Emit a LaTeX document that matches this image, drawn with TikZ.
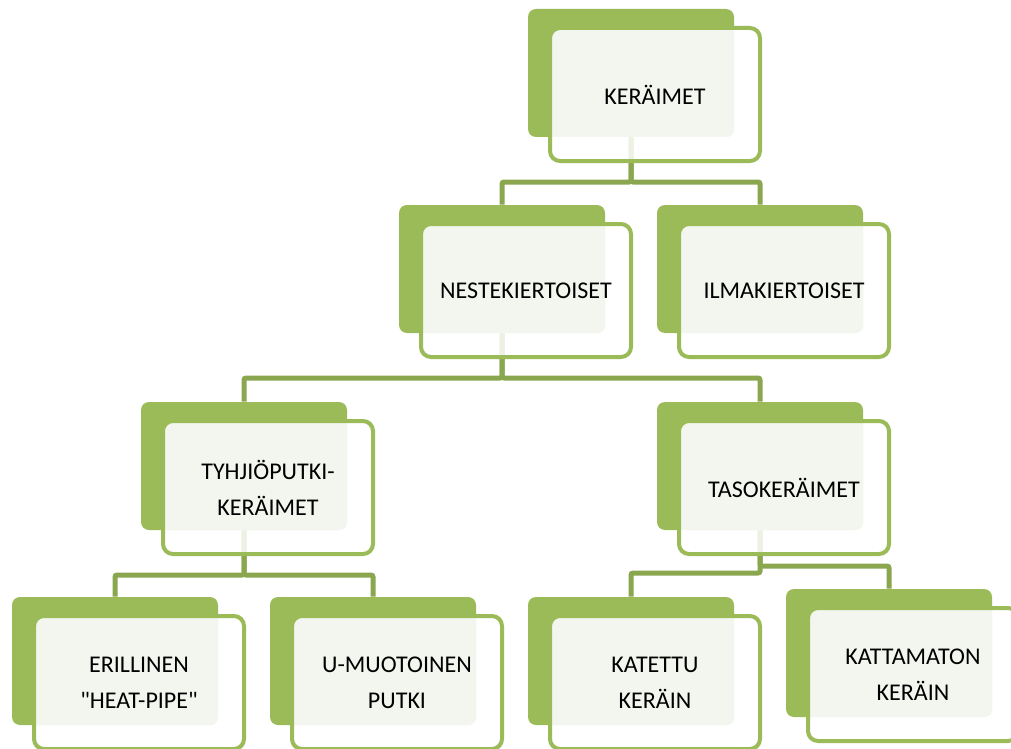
\documentclass[tikz,border=0pt]{standalone}
\usepackage{fontspec}
\setmainfont{Carlito}
\usetikzlibrary{backgrounds}
\definecolor{gr}{HTML}{9BBB59}
\definecolor{conncol}{HTML}{8AA64F}
\definecolor{lightg}{HTML}{F3F6EE}
\newcommand\sq{\XeTeXglyph\XeTeXcharglyph"22\relax}
\tikzset{
  gbox/.style={fill=gr, draw=none, rounded corners=6pt, inner sep=0pt,
    minimum width=154.5pt, minimum height=96pt},
  fbox/.style={draw=gr, line width=3pt, rounded corners=7.5pt, inner sep=0pt,
    minimum width=157.5pt, minimum height=99.75pt, align=center,
    font=\fontsize{18}{27}\selectfont},
  conn/.style={draw=conncol, line width=3.75pt, rounded corners=1.5pt}
}
\newcommand\orgunit[4]{%
  \node[gbox] (#1g) at (#2+103,#3+64) {};
  \fill[white, fill opacity=0.85, rounded corners=7.5pt] (#2+22,#3+19) rectangle (#2+232,#3+152);
  \begin{scope}
    \clip[rounded corners=7.5pt] (#2+22,#3+19) rectangle (#2+232,#3+152);
    \fill[lightg, rounded corners=6pt] (#2,#3) rectangle (#2+206,#3+128);
  \end{scope}
  \node[fbox] (#1) at (#2+127,#3+85.5) {#4};
}
\begin{document}
\begin{tikzpicture}[x=0.75pt,y=-0.75pt]
\useasboundingbox (0,0) rectangle (1011,749);
\orgunit{K}{528}{9}{KERÄIMET}
\orgunit{N}{399}{205}{NESTEKIERTOISET}
\orgunit{I}{657}{205}{ILMAKIERTOISET}
\orgunit{T}{141}{402}{TYHJIÖPUTKI-\\KERÄIMET}
\orgunit{S}{657}{402}{TASOKERÄIMET}
\orgunit{E}{12}{597}{ERILLINEN\\\sq HEAT-PIPE\sq}
\orgunit{U}{270}{597}{U-MUOTOINEN\\PUTKI}
\orgunit{KA}{528}{597}{KATETTU\\KERÄIN}
\orgunit{KM}{786}{589}{KATTAMATON\\KERÄIN}
\coordinate (h1) at (0,182);
\coordinate (h2) at (0,378);
\coordinate (h3) at (0,575);
\coordinate (h4) at (0,573);
\coordinate (h5) at (0,566);
\begin{pgfonlayer}{background}
\draw[conn] (Kg.south) -- (Kg.south |- h1) -| (Ng.north);
\draw[conn] (Kg.south) -- (Kg.south |- h1) -| (Ig.north);
\draw[conn] (Ng.south) -- (Ng.south |- h2) -| (Tg.north);
\draw[conn] (Ng.south) -- (Ng.south |- h2) -| (Sg.north);
\draw[conn] (Tg.south) -- (Tg.south |- h3) -| (Eg.north);
\draw[conn] (Tg.south) -- (Tg.south |- h3) -| (Ug.north);
\draw[conn] (Sg.south) -- (Sg.south |- h4) -| (KAg.north);
\draw[conn] (Sg.south) -- (Sg.south |- h5) -| (KMg.north);
\end{pgfonlayer}
\end{tikzpicture}
\end{document}
